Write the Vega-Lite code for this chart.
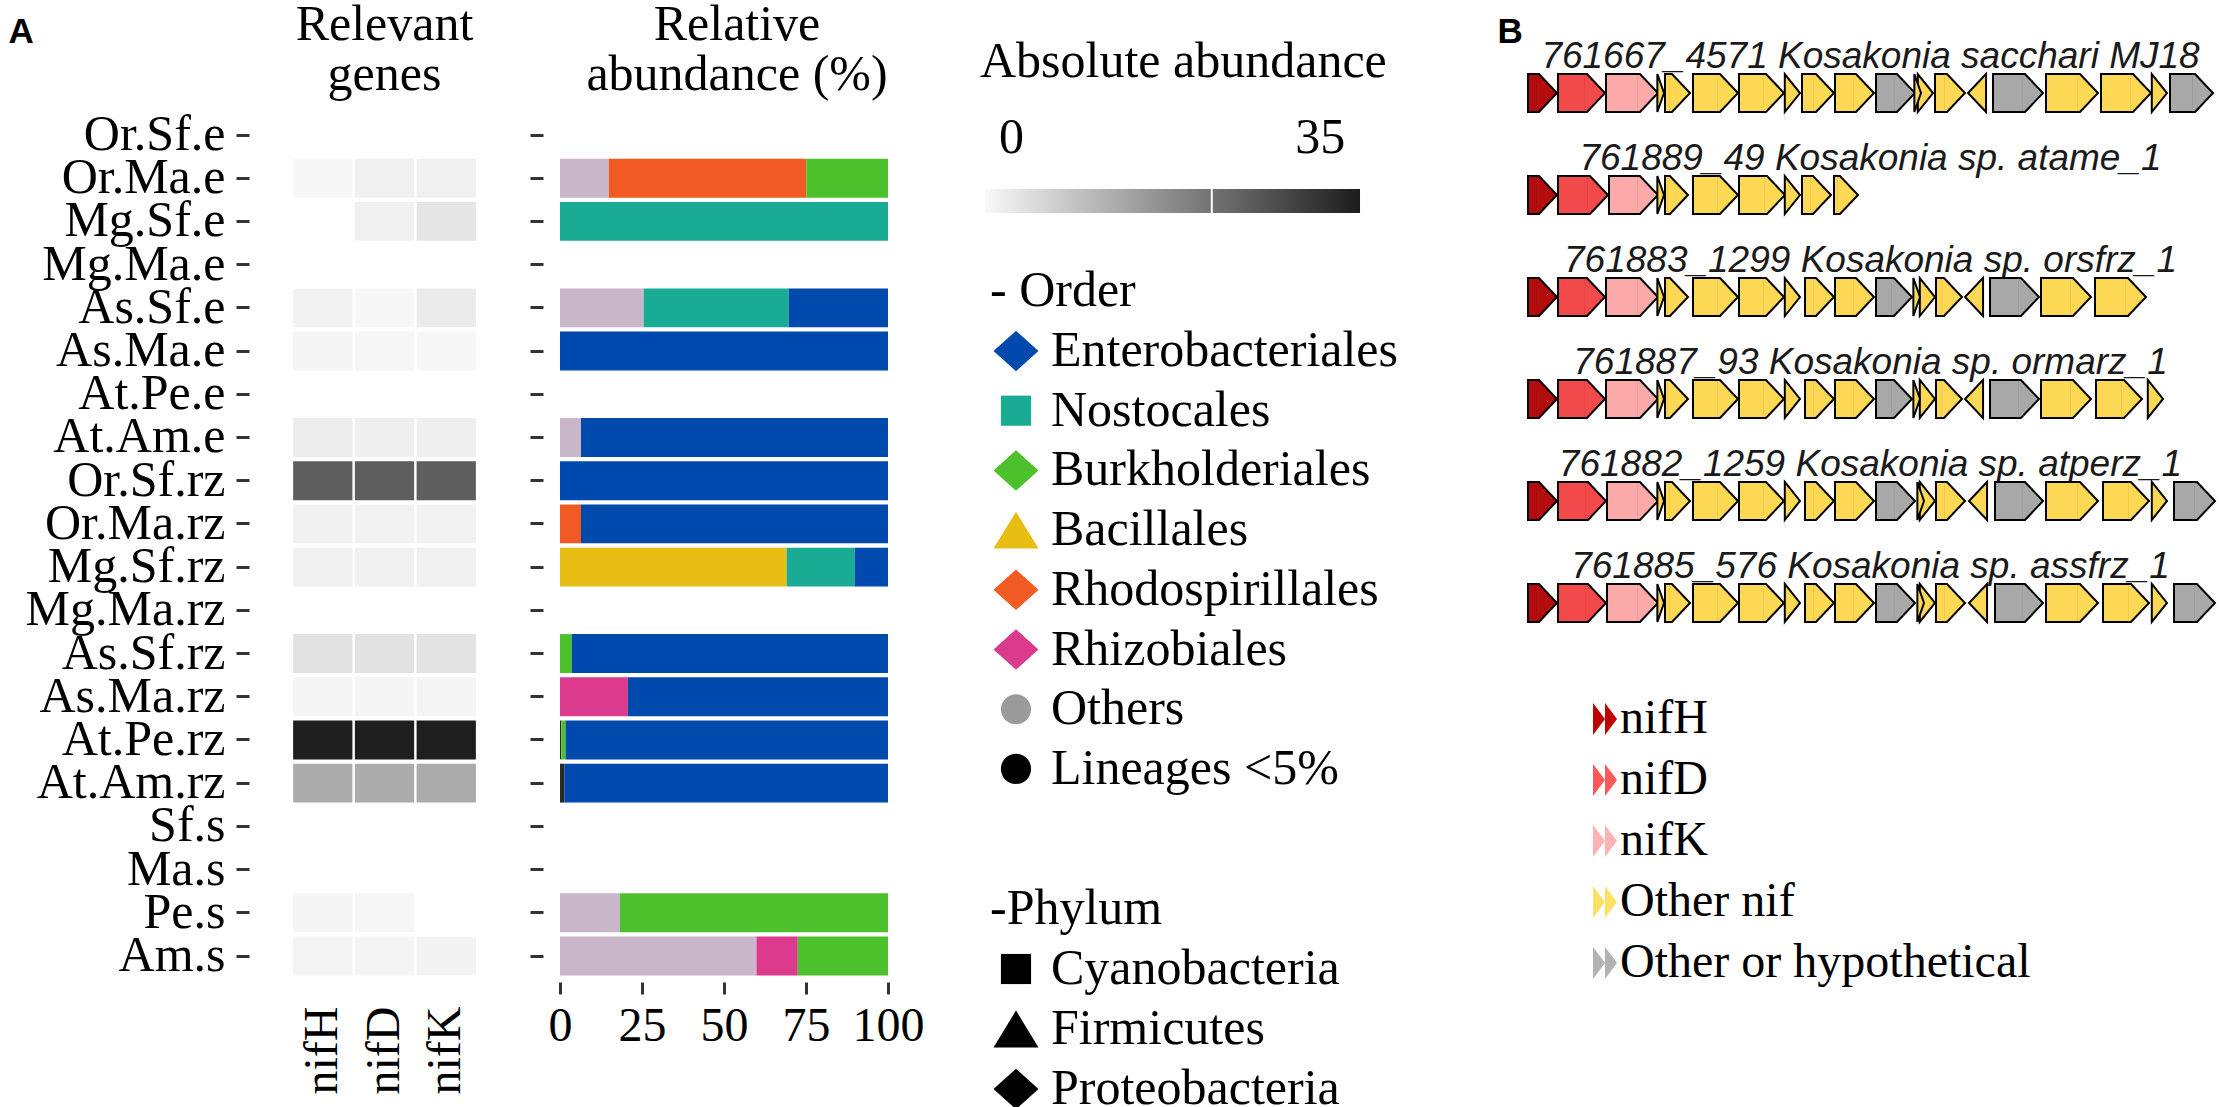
{
"$schema": "https://vega.github.io/schema/vega-lite/v6.json",
"background": "white",
"padding": {"left": 8, "top": 0, "right": 0, "bottom": 0},
"config": {
  "font": "Liberation Serif",
  "view": {"stroke": null},
  "axis": {"labelFont": "Liberation Serif", "titleFont": "Liberation Serif", "grid": false, "labelLimit": 0, "labelOverlap": false, "labelColor": "black", "titleColor": "black"},
  "title": {"font": "Liberation Serif", "fontWeight": "normal", "fontSize": 50, "color": "black", "frame": "group"},
  "text": {"font": "Liberation Serif", "color": "black"}
},
"datasets": {
  "heat": [
    {"sample":"Or.Ma.e","gene":"nifH","abundance":0.2},
    {"sample":"Or.Ma.e","gene":"nifD","abundance":1.4},
    {"sample":"Or.Ma.e","gene":"nifK","abundance":1.4},
    {"sample":"Mg.Sf.e","gene":"nifD","abundance":1.4},
    {"sample":"Mg.Sf.e","gene":"nifK","abundance":3.1},
    {"sample":"As.Sf.e","gene":"nifH","abundance":1.0},
    {"sample":"As.Sf.e","gene":"nifD","abundance":0.2},
    {"sample":"As.Sf.e","gene":"nifK","abundance":2.3},
    {"sample":"As.Ma.e","gene":"nifH","abundance":0.5},
    {"sample":"As.Ma.e","gene":"nifD","abundance":0.35},
    {"sample":"As.Ma.e","gene":"nifK","abundance":0.15},
    {"sample":"At.Am.e","gene":"nifH","abundance":2.1},
    {"sample":"At.Am.e","gene":"nifD","abundance":1.6},
    {"sample":"At.Am.e","gene":"nifK","abundance":1.5},
    {"sample":"Or.Sf.rz","gene":"nifH","abundance":26.8},
    {"sample":"Or.Sf.rz","gene":"nifD","abundance":26.8},
    {"sample":"Or.Sf.rz","gene":"nifK","abundance":26.8},
    {"sample":"Or.Ma.rz","gene":"nifH","abundance":1.4},
    {"sample":"Or.Ma.rz","gene":"nifD","abundance":1.1},
    {"sample":"Or.Ma.rz","gene":"nifK","abundance":1.0},
    {"sample":"Mg.Sf.rz","gene":"nifH","abundance":1.4},
    {"sample":"Mg.Sf.rz","gene":"nifD","abundance":1.4},
    {"sample":"Mg.Sf.rz","gene":"nifK","abundance":1.4},
    {"sample":"As.Sf.rz","gene":"nifH","abundance":3.8},
    {"sample":"As.Sf.rz","gene":"nifD","abundance":3.9},
    {"sample":"As.Sf.rz","gene":"nifK","abundance":3.7},
    {"sample":"As.Ma.rz","gene":"nifH","abundance":0.5},
    {"sample":"As.Ma.rz","gene":"nifD","abundance":0.5},
    {"sample":"As.Ma.rz","gene":"nifK","abundance":0.5},
    {"sample":"At.Pe.rz","gene":"nifH","abundance":38},
    {"sample":"At.Pe.rz","gene":"nifD","abundance":38},
    {"sample":"At.Pe.rz","gene":"nifK","abundance":38},
    {"sample":"At.Am.rz","gene":"nifH","abundance":13.4},
    {"sample":"At.Am.rz","gene":"nifD","abundance":13.4},
    {"sample":"At.Am.rz","gene":"nifK","abundance":13.4},
    {"sample":"Pe.s","gene":"nifH","abundance":0.6},
    {"sample":"Pe.s","gene":"nifD","abundance":0.3},
    {"sample":"Am.s","gene":"nifH","abundance":0.7},
    {"sample":"Am.s","gene":"nifD","abundance":0.7},
    {"sample":"Am.s","gene":"nifK","abundance":0.8}
  ],
  "bars": [
    {"sample":"Or.Ma.e","order":"Others","from":0,"to":14.9},
    {"sample":"Or.Ma.e","order":"Rhodospirillales","from":14.9,"to":75.1},
    {"sample":"Or.Ma.e","order":"Burkholderiales","from":75.1,"to":100},
    {"sample":"Mg.Sf.e","order":"Nostocales","from":0,"to":100},
    {"sample":"As.Sf.e","order":"Others","from":0,"to":25.5},
    {"sample":"As.Sf.e","order":"Nostocales","from":25.5,"to":69.7},
    {"sample":"As.Sf.e","order":"Enterobacteriales","from":69.7,"to":100},
    {"sample":"As.Ma.e","order":"Enterobacteriales","from":0,"to":100},
    {"sample":"At.Am.e","order":"Others","from":0,"to":6.4},
    {"sample":"At.Am.e","order":"Enterobacteriales","from":6.4,"to":100},
    {"sample":"Or.Sf.rz","order":"Enterobacteriales","from":0,"to":100},
    {"sample":"Or.Ma.rz","order":"Rhodospirillales","from":0,"to":6.4},
    {"sample":"Or.Ma.rz","order":"Enterobacteriales","from":6.4,"to":100},
    {"sample":"Mg.Sf.rz","order":"Bacillales","from":0,"to":69.1},
    {"sample":"Mg.Sf.rz","order":"Nostocales","from":69.1,"to":89.8},
    {"sample":"Mg.Sf.rz","order":"Enterobacteriales","from":89.8,"to":100},
    {"sample":"As.Sf.rz","order":"Burkholderiales","from":0,"to":3.6},
    {"sample":"As.Sf.rz","order":"Enterobacteriales","from":3.6,"to":100},
    {"sample":"As.Ma.rz","order":"Rhizobiales","from":0,"to":20.7},
    {"sample":"As.Ma.rz","order":"Enterobacteriales","from":20.7,"to":100},
    {"sample":"At.Pe.rz","order":"Lineages <5%","from":0,"to":0.4},
    {"sample":"At.Pe.rz","order":"Burkholderiales","from":0.4,"to":1.7},
    {"sample":"At.Pe.rz","order":"Enterobacteriales","from":1.7,"to":100},
    {"sample":"At.Am.rz","order":"Lineages <5%","from":0,"to":1.3},
    {"sample":"At.Am.rz","order":"Enterobacteriales","from":1.3,"to":100},
    {"sample":"Pe.s","order":"Others","from":0,"to":18.3},
    {"sample":"Pe.s","order":"Burkholderiales","from":18.3,"to":100},
    {"sample":"Am.s","order":"Others","from":0,"to":59.9},
    {"sample":"Am.s","order":"Rhizobiales","from":59.9,"to":72.5},
    {"sample":"Am.s","order":"Burkholderiales","from":72.5,"to":100}
  ],
  "gradbar": [{"part":"bar","lo":-3,"hi":39.5}],
  "gradtick": [{"part":"bar","value":22.7}],
  "gradlabels": [{"part":"labels","value":0,"label":"0"},{"part":"labels","value":35,"label":"35"}],
  "orderlegend": [
    {"key":"Enterobacteriales"},{"key":"Nostocales"},{"key":"Burkholderiales"},{"key":"Bacillales"},
    {"key":"Rhodospirillales"},{"key":"Rhizobiales"},{"key":"Others"},{"key":"Lineages <5%"}
  ],
  "ordertitle": [{"key":"- Order"}],
  "phylumlegend": [{"key":"Cyanobacteria"},{"key":"Firmicutes"},{"key":"Proteobacteria"}],
  "phylumtitle": [{"key":"-Phylum"}],
  "contigs": [
    {"contig":"c1","label":"761667_4571 Kosakonia sacchari MJ18"},
    {"contig":"c2","label":"761889_49 Kosakonia sp. atame_1"},
    {"contig":"c3","label":"761883_1299 Kosakonia sp. orsfrz_1"},
    {"contig":"c4","label":"761887_93 Kosakonia sp. ormarz_1"},
    {"contig":"c5","label":"761882_1259 Kosakonia sp. atperz_1"},
    {"contig":"c6","label":"761885_576 Kosakonia sp. assfrz_1"}
  ],
  "genelegend": [{"type":"nifH"},{"type":"nifD"},{"type":"nifK"},{"type":"Other nif"},{"type":"Other or hypothetical"}],
  "genes": [
    {"contig":"c1","start":3,"end":32,"type":"nifH","strand":"+"},
    {"contig":"c1","start":33,"end":80,"type":"nifD","strand":"+"},
    {"contig":"c1","start":81,"end":133,"type":"nifK","strand":"+"},
    {"contig":"c1","start":134,"end":139,"type":"Other nif","strand":"+"},
    {"contig":"c1","start":140,"end":165,"type":"Other nif","strand":"+"},
    {"contig":"c1","start":168,"end":213,"type":"Other nif","strand":"+"},
    {"contig":"c1","start":214,"end":259,"type":"Other nif","strand":"+"},
    {"contig":"c1","start":260,"end":275,"type":"Other nif","strand":"+"},
    {"contig":"c1","start":277,"end":309,"type":"Other nif","strand":"+"},
    {"contig":"c1","start":310,"end":349,"type":"Other nif","strand":"+"},
    {"contig":"c1","start":351,"end":390,"type":"Other or hypothetical","strand":"+"},
    {"contig":"c1","start":391,"end":396,"type":"Other nif","strand":"+"},
    {"contig":"c1","start":397,"end":408,"type":"Other nif","strand":"+"},
    {"contig":"c1","start":410,"end":440,"type":"Other nif","strand":"+"},
    {"contig":"c1","start":443,"end":461,"type":"Other nif","strand":"-"},
    {"contig":"c1","start":468,"end":518,"type":"Other or hypothetical","strand":"+"},
    {"contig":"c1","start":521,"end":573,"type":"Other nif","strand":"+"},
    {"contig":"c1","start":576,"end":626,"type":"Other nif","strand":"+"},
    {"contig":"c1","start":627,"end":642,"type":"Other nif","strand":"+"},
    {"contig":"c1","start":645,"end":688,"type":"Other or hypothetical","strand":"+"},
    {"contig":"c2","start":3,"end":32,"type":"nifH","strand":"+"},
    {"contig":"c2","start":33,"end":83,"type":"nifD","strand":"+"},
    {"contig":"c2","start":84,"end":133,"type":"nifK","strand":"+"},
    {"contig":"c2","start":134,"end":139,"type":"Other nif","strand":"+"},
    {"contig":"c2","start":140,"end":163,"type":"Other nif","strand":"+"},
    {"contig":"c2","start":168,"end":213,"type":"Other nif","strand":"+"},
    {"contig":"c2","start":214,"end":260,"type":"Other nif","strand":"+"},
    {"contig":"c2","start":261,"end":275,"type":"Other nif","strand":"+"},
    {"contig":"c2","start":277,"end":306,"type":"Other nif","strand":"+"},
    {"contig":"c2","start":309,"end":333,"type":"Other nif","strand":"+"},
    {"contig":"c3","start":3,"end":32,"type":"nifH","strand":"+"},
    {"contig":"c3","start":33,"end":80,"type":"nifD","strand":"+"},
    {"contig":"c3","start":81,"end":133,"type":"nifK","strand":"+"},
    {"contig":"c3","start":134,"end":139,"type":"Other nif","strand":"+"},
    {"contig":"c3","start":140,"end":163,"type":"Other nif","strand":"+"},
    {"contig":"c3","start":168,"end":213,"type":"Other nif","strand":"+"},
    {"contig":"c3","start":214,"end":259,"type":"Other nif","strand":"+"},
    {"contig":"c3","start":260,"end":275,"type":"Other nif","strand":"+"},
    {"contig":"c3","start":280,"end":309,"type":"Other nif","strand":"+"},
    {"contig":"c3","start":310,"end":349,"type":"Other nif","strand":"+"},
    {"contig":"c3","start":351,"end":387,"type":"Other or hypothetical","strand":"+"},
    {"contig":"c3","start":388,"end":395,"type":"Other nif","strand":"+"},
    {"contig":"c3","start":396,"end":410,"type":"Other nif","strand":"+"},
    {"contig":"c3","start":411,"end":437,"type":"Other nif","strand":"+"},
    {"contig":"c3","start":440,"end":461,"type":"Other nif","strand":"-"},
    {"contig":"c3","start":465,"end":514,"type":"Other or hypothetical","strand":"+"},
    {"contig":"c3","start":516,"end":566,"type":"Other nif","strand":"+"},
    {"contig":"c3","start":570,"end":621,"type":"Other nif","strand":"+"},
    {"contig":"c4","start":3,"end":32,"type":"nifH","strand":"+"},
    {"contig":"c4","start":33,"end":80,"type":"nifD","strand":"+"},
    {"contig":"c4","start":81,"end":133,"type":"nifK","strand":"+"},
    {"contig":"c4","start":134,"end":139,"type":"Other nif","strand":"+"},
    {"contig":"c4","start":140,"end":163,"type":"Other nif","strand":"+"},
    {"contig":"c4","start":168,"end":213,"type":"Other nif","strand":"+"},
    {"contig":"c4","start":214,"end":259,"type":"Other nif","strand":"+"},
    {"contig":"c4","start":260,"end":275,"type":"Other nif","strand":"+"},
    {"contig":"c4","start":280,"end":309,"type":"Other nif","strand":"+"},
    {"contig":"c4","start":310,"end":349,"type":"Other nif","strand":"+"},
    {"contig":"c4","start":351,"end":387,"type":"Other or hypothetical","strand":"+"},
    {"contig":"c4","start":388,"end":395,"type":"Other nif","strand":"+"},
    {"contig":"c4","start":396,"end":410,"type":"Other nif","strand":"+"},
    {"contig":"c4","start":411,"end":437,"type":"Other nif","strand":"+"},
    {"contig":"c4","start":440,"end":461,"type":"Other nif","strand":"-"},
    {"contig":"c4","start":465,"end":514,"type":"Other or hypothetical","strand":"+"},
    {"contig":"c4","start":516,"end":566,"type":"Other nif","strand":"+"},
    {"contig":"c4","start":571,"end":617,"type":"Other nif","strand":"+"},
    {"contig":"c4","start":618,"end":638,"type":"Other nif","strand":"+"},
    {"contig":"c5","start":3,"end":32,"type":"nifH","strand":"+"},
    {"contig":"c5","start":33,"end":81,"type":"nifD","strand":"+"},
    {"contig":"c5","start":82,"end":133,"type":"nifK","strand":"+"},
    {"contig":"c5","start":134,"end":139,"type":"Other nif","strand":"+"},
    {"contig":"c5","start":140,"end":165,"type":"Other nif","strand":"+"},
    {"contig":"c5","start":168,"end":213,"type":"Other nif","strand":"+"},
    {"contig":"c5","start":214,"end":259,"type":"Other nif","strand":"+"},
    {"contig":"c5","start":261,"end":275,"type":"Other nif","strand":"+"},
    {"contig":"c5","start":280,"end":309,"type":"Other nif","strand":"+"},
    {"contig":"c5","start":310,"end":349,"type":"Other nif","strand":"+"},
    {"contig":"c5","start":351,"end":390,"type":"Other or hypothetical","strand":"+"},
    {"contig":"c5","start":393,"end":399,"type":"Other nif","strand":"+"},
    {"contig":"c5","start":400,"end":410,"type":"Other nif","strand":"+"},
    {"contig":"c5","start":411,"end":440,"type":"Other nif","strand":"+"},
    {"contig":"c5","start":444,"end":463,"type":"Other nif","strand":"-"},
    {"contig":"c5","start":470,"end":518,"type":"Other or hypothetical","strand":"+"},
    {"contig":"c5","start":521,"end":573,"type":"Other nif","strand":"+"},
    {"contig":"c5","start":578,"end":624,"type":"Other nif","strand":"+"},
    {"contig":"c5","start":625,"end":642,"type":"Other nif","strand":"+"},
    {"contig":"c5","start":649,"end":690,"type":"Other or hypothetical","strand":"+"},
    {"contig":"c6","start":3,"end":32,"type":"nifH","strand":"+"},
    {"contig":"c6","start":33,"end":81,"type":"nifD","strand":"+"},
    {"contig":"c6","start":82,"end":133,"type":"nifK","strand":"+"},
    {"contig":"c6","start":134,"end":139,"type":"Other nif","strand":"+"},
    {"contig":"c6","start":140,"end":165,"type":"Other nif","strand":"+"},
    {"contig":"c6","start":168,"end":213,"type":"Other nif","strand":"+"},
    {"contig":"c6","start":214,"end":259,"type":"Other nif","strand":"+"},
    {"contig":"c6","start":261,"end":275,"type":"Other nif","strand":"+"},
    {"contig":"c6","start":280,"end":309,"type":"Other nif","strand":"+"},
    {"contig":"c6","start":310,"end":349,"type":"Other nif","strand":"+"},
    {"contig":"c6","start":351,"end":390,"type":"Other or hypothetical","strand":"+"},
    {"contig":"c6","start":393,"end":399,"type":"Other nif","strand":"+"},
    {"contig":"c6","start":400,"end":410,"type":"Other nif","strand":"+"},
    {"contig":"c6","start":411,"end":440,"type":"Other nif","strand":"+"},
    {"contig":"c6","start":444,"end":463,"type":"Other nif","strand":"-"},
    {"contig":"c6","start":470,"end":518,"type":"Other or hypothetical","strand":"+"},
    {"contig":"c6","start":521,"end":573,"type":"Other nif","strand":"+"},
    {"contig":"c6","start":578,"end":624,"type":"Other nif","strand":"+"},
    {"contig":"c6","start":625,"end":642,"type":"Other nif","strand":"+"},
    {"contig":"c6","start":649,"end":690,"type":"Other or hypothetical","strand":"+"}
  ]
},
"bounds": "flush",
"spacing": 23,
"resolve": {"scale": {"color": "independent", "shape": "independent", "x": "independent", "y": "independent"}},
"hconcat": [
  {
    "width": 271, "height": 946,
    "title": {"text": ["Relevant", "genes"], "anchor": "middle", "frame": "group", "baseline": "top", "offset": -86, "fontSize": 50, "lineHeight": 50},
    "data": {"name": "heat"},
    "mark": {"type": "rect"},
    "encoding": {
      "x": {"field": "gene", "type": "nominal",
            "scale": {"domain": ["nifH","nifD","nifK"], "paddingInner": 0.04, "paddingOuter": 0.715},
            "axis": {"title": null, "labelAngle": -90, "labelFontSize": 48, "ticks": false, "tickSize": 0, "domain": false, "labelPadding": 24}},
      "y": {"field": "sample", "type": "nominal",
            "scale": {"domain": ["Or.Sf.e","Or.Ma.e","Mg.Sf.e","Mg.Ma.e","As.Sf.e","As.Ma.e","At.Pe.e","At.Am.e","Or.Sf.rz","Or.Ma.rz","Mg.Sf.rz","Mg.Ma.rz","As.Sf.rz","As.Ma.rz","At.Pe.rz","At.Am.rz","Sf.s","Ma.s","Pe.s","Am.s"], "paddingInner": 0.1, "paddingOuter": 0.9963, "align": 0.924},
            "axis": {"title": "A", "titleAngle": 0, "titleX": -241, "titleY": 6, "titleAlign": "left", "titleBaseline": "alphabetic", "titleFont": "Liberation Sans", "titleFontSize": 35, "titleFontWeight": "bold",
                     "labelFontSize": 50, "labelPadding": 11, "tickSize": 13, "tickWidth": 3, "tickColor": "#333333", "domain": false}},
      "color": {"field": "abundance", "type": "quantitative",
                "scale": {"domain": [0, 38], "range": ["#f8f8f8", "#1e1e1e"], "interpolate": "rgb"}, "legend": null}
    }
  },
  {
    "width": 362, "height": 946,
    "title": {"text": ["Relative", "abundance (%)"], "anchor": "middle", "frame": "group", "baseline": "top", "offset": -64, "fontSize": 50, "lineHeight": 50, "dx": 13},
    "data": {"name": "bars"},
    "mark": {"type": "bar"},
    "encoding": {
      "x": {"field": "from", "type": "quantitative",
            "scale": {"domain": [-5.18, 105.18], "nice": false, "zero": false},
            "axis": {"title": null, "values": [0,25,50,75,100], "labelFontSize": 48, "labelPadding": 8, "tickSize": 12, "tickWidth": 3, "tickColor": "#333333", "domain": false, "labelFlush": false}},
      "x2": {"field": "to"},
      "y": {"field": "sample", "type": "nominal",
            "scale": {"domain": ["Or.Sf.e","Or.Ma.e","Mg.Sf.e","Mg.Ma.e","As.Sf.e","As.Ma.e","At.Pe.e","At.Am.e","Or.Sf.rz","Or.Ma.rz","Mg.Sf.rz","Mg.Ma.rz","As.Sf.rz","As.Ma.rz","At.Pe.rz","At.Am.rz","Sf.s","Ma.s","Pe.s","Am.s"], "paddingInner": 0.1, "paddingOuter": 0.9963, "align": 0.924},
            "axis": {"title": null, "labels": false, "tickSize": 13, "tickWidth": 3, "tickColor": "#333333", "domain": false}},
      "color": {"field": "order", "type": "nominal",
                "scale": {"domain": ["Enterobacteriales","Nostocales","Burkholderiales","Bacillales","Rhodospirillales","Rhizobiales","Others","Lineages <5%"],
                          "range": ["#004aad","#1aab95","#4dc12b","#e8bd14","#f15a22","#db3a8d","#c9b6c9","#2a2a2a"]},
                "legend": null}
    }
  },
  {
    "width": 574, "height": 1077,
    "title": {"text": "Absolute abundance", "anchor": "start", "frame": "group", "baseline": "top", "offset": -50.5, "dx": 52, "fontSize": 50},
    "resolve": {"scale": {"x": "independent", "y": "independent", "color": "independent", "shape": "independent"}},
    "layer": [
      {
        "layer": [
          {
            "data": {"name": "gradbar"},
            "mark": {"type": "rect", "fill": {"gradient": "linear", "stops": [{"offset": 0, "color": "#f8f8f8"}, {"offset": 1, "color": "#1c1c1c"}]}},
            "encoding": {
              "x": {"field": "lo", "type": "quantitative", "scale": {"domain": [-9.46, 55.59], "nice": false, "zero": false}, "axis": null},
              "x2": {"field": "hi"},
              "y": {"field": "part", "type": "nominal", "scale": {"domain": ["labels", "bar"], "range": [90, 177], "paddingInner": 0.619, "paddingOuter": 0}, "axis": null}
            }
          },
          {
            "data": {"name": "gradtick"},
            "mark": {"type": "tick", "color": "white", "thickness": 2, "size": 24, "opacity": 1},
            "encoding": {
              "x": {"field": "value", "type": "quantitative"},
              "y": {"field": "part", "type": "nominal"}
            }
          },
          {
            "data": {"name": "gradlabels"},
            "mark": {"type": "text", "fontSize": 50, "baseline": "middle", "align": "center"},
            "encoding": {
              "x": {"field": "value", "type": "quantitative"},
              "y": {"field": "part", "type": "nominal"},
              "text": {"field": "label"}
            }
          }
        ]
      },
      {
        "encoding": {
          "y": {"field": "key", "type": "nominal", "scale": {"type": "point", "domain": ["- Order","Enterobacteriales","Nostocales","Burkholderiales","Bacillales","Rhodospirillales","Rhizobiales","Others","Lineages <5%"], "range": [255.3, 732.9], "padding": 0}, "axis": null},
          "x": {"datum": "legend", "type": "nominal", "scale": {"type": "point", "domain": ["legend"], "padding": 1, "align": 0.1533}, "axis": null}
        },
        "layer": [
          {
            "data": {"name": "orderlegend"},
            "mark": {"type": "point", "filled": true, "opacity": 1, "size": 2025, "strokeWidth": 0},
            "encoding": {
              "shape": {"field": "key", "type": "nominal",
                        "scale": {"domain": ["Enterobacteriales","Nostocales","Burkholderiales","Bacillales","Rhodospirillales","Rhizobiales","Others","Lineages <5%"],
                                  "range": ["M-1,0L0,-0.9L1,0L0,0.9Z","M-0.67,-0.67L0.67,-0.67L0.67,0.67L-0.67,0.67Z","M-1,0L0,-0.9L1,0L0,0.9Z","M0,-0.82L1,0.82L-1,0.82Z","M-1,0L0,-0.9L1,0L0,0.9Z","M-1,0L0,-0.9L1,0L0,0.9Z","M-0.67,0A0.67,0.67,0,1,1,0.67,0A0.67,0.67,0,1,1,-0.67,0Z","M-0.67,0A0.67,0.67,0,1,1,0.67,0A0.67,0.67,0,1,1,-0.67,0Z"]},
                        "legend": null},
              "color": {"field": "key", "type": "nominal",
                        "scale": {"domain": ["Enterobacteriales","Nostocales","Burkholderiales","Bacillales","Rhodospirillales","Rhizobiales","Others","Lineages <5%"],
                                  "range": ["#004aad","#1aab95","#4dc12b","#e8bd14","#f15a22","#db3a8d","#9b9b9b","#000000"]},
                        "legend": null}
            }
          },
          {
            "data": {"name": "orderlegend"},
            "mark": {"type": "text", "align": "left", "baseline": "middle", "dx": 35, "fontSize": 50},
            "encoding": {"text": {"field": "key"}}
          },
          {
            "data": {"name": "ordertitle"},
            "mark": {"type": "text", "align": "left", "baseline": "middle", "dx": -26, "fontSize": 50},
            "encoding": {"text": {"field": "key"}}
          }
        ]
      },
      {
        "encoding": {
          "y": {"field": "key", "type": "nominal", "scale": {"type": "point", "domain": ["-Phylum","Cyanobacteria","Firmicutes","Proteobacteria"], "range": [873, 1053], "padding": 0}, "axis": null},
          "x": {"datum": "legend", "type": "nominal", "scale": {"type": "point", "domain": ["legend"], "padding": 1, "align": 0.1533}, "axis": null}
        },
        "layer": [
          {
            "data": {"name": "phylumlegend"},
            "mark": {"type": "point", "filled": true, "opacity": 1, "size": 2025, "strokeWidth": 0, "color": "black"},
            "encoding": {
              "shape": {"field": "key", "type": "nominal",
                        "scale": {"domain": ["Cyanobacteria","Firmicutes","Proteobacteria"],
                                  "range": ["M-0.67,-0.67L0.67,-0.67L0.67,0.67L-0.67,0.67Z","M0,-0.82L1,0.82L-1,0.82Z","M-1,0L0,-0.9L1,0L0,0.9Z"]},
                        "legend": null}
            }
          },
          {
            "data": {"name": "phylumlegend"},
            "mark": {"type": "text", "align": "left", "baseline": "middle", "dx": 35, "fontSize": 50},
            "encoding": {"text": {"field": "key"}}
          },
          {
            "data": {"name": "phylumtitle"},
            "mark": {"type": "text", "align": "left", "baseline": "middle", "dx": -26, "fontSize": 50},
            "encoding": {"text": {"field": "key"}}
          }
        ]
      }
    ]
  },
  {
    "width": 691, "height": 1077,
    "resolve": {"scale": {"x": "independent", "y": "independent", "color": "independent"}},
    "layer": [
      {
        "encoding": {
          "y": {"field": "contig", "type": "nominal",
                "scale": {"domain": ["c1","c2","c3","c4","c5","c6"], "range": [38, 586], "paddingInner": 0.627, "paddingOuter": 0},
                "axis": {"title": "B", "titleAngle": 0, "titleX": -28, "titleY": 6, "titleAlign": "left", "titleBaseline": "alphabetic", "titleFont": "Liberation Sans", "titleFontSize": 35, "titleFontWeight": "bold", "labels": false, "ticks": false, "domain": false}}
        },
        "layer": [
          {
            "data": {"name": "contigs"},
            "mark": {"type": "text", "font": "Liberation Sans", "fontStyle": "italic", "fontSize": 37, "align": "center", "baseline": "middle", "dy": -36, "color": "#1a1a1a"},
            "encoding": {"text": {"field": "label"}}
          },
          {
            "data": {"name": "genes"},
            "transform": [{"filter": "datum.strand == '+' && datum.end - datum.start >= 22"}],
            "mark": {"type": "rect", "stroke": "black", "strokeWidth": 2, "x2Offset": -19.5},
            "encoding": {
              "x": {"field": "start", "type": "quantitative", "scale": {"domain": [0, 691], "nice": false, "zero": false}, "axis": null},
              "x2": {"field": "end"},
              "color": {"field": "type", "type": "nominal",
                        "scale": {"domain": ["nifH","nifD","nifK","Other nif","Other or hypothetical"], "range": ["#b30c0c","#f24a4a","#fba9a9","#fdd854","#a8a8a8"]},
                        "legend": null}
            }
          },
          {
            "data": {"name": "genes"},
            "transform": [{"filter": "datum.strand == '+' && datum.end - datum.start >= 22"}],
            "mark": {"type": "point", "shape": "M-1.1,-1L-0.95,-1L0,0L-0.95,1L-1.1,1", "size": 1444, "filled": true, "opacity": 1, "stroke": "black", "strokeWidth": 2},
            "encoding": {
              "x": {"field": "end", "type": "quantitative", "axis": null},
              "color": {"field": "type", "type": "nominal", "legend": null}
            }
          },
          {
            "data": {"name": "genes"},
            "transform": [{"filter": "datum.strand == '+' && datum.end - datum.start >= 9 && datum.end - datum.start < 22"}],
            "mark": {"type": "point", "shape": "M-0.8,-1L0,0L-0.8,1Z", "size": 1444, "filled": true, "opacity": 1, "stroke": "black", "strokeWidth": 2},
            "encoding": {
              "x": {"field": "end", "type": "quantitative", "axis": null},
              "color": {"field": "type", "type": "nominal", "legend": null}
            }
          },
          {
            "data": {"name": "genes"},
            "transform": [{"filter": "datum.strand == '+' && datum.end - datum.start < 9"}],
            "mark": {"type": "point", "shape": "M-0.35,-1L0,0L-0.35,1Z", "size": 1444, "filled": true, "opacity": 1, "stroke": "black", "strokeWidth": 2},
            "encoding": {
              "x": {"field": "end", "type": "quantitative", "axis": null},
              "color": {"field": "type", "type": "nominal", "legend": null}
            }
          },
          {
            "data": {"name": "genes"},
            "transform": [{"filter": "datum.strand == '-'"}],
            "mark": {"type": "point", "shape": "M0.95,-1L0,0L0.95,1Z", "size": 1444, "filled": true, "opacity": 1, "stroke": "black", "strokeWidth": 2},
            "encoding": {
              "x": {"field": "start", "type": "quantitative", "axis": null},
              "color": {"field": "type", "type": "nominal", "legend": null}
            }
          }
        ]
      },
      {
        "data": {"name": "genelegend"},
        "encoding": {
          "y": {"field": "type", "type": "nominal", "scale": {"type": "point", "domain": ["nifH","nifD","nifK","Other nif","Other or hypothetical"], "range": [683, 927], "padding": 0}, "axis": null},
          "x": {"datum": "legend", "type": "nominal", "scale": {"type": "point", "domain": ["legend"], "padding": 1, "align": 0.1158}, "axis": null}
        },
        "layer": [
          {
            "mark": {"type": "point", "shape": "M-0.75,-1L0,0L-0.75,1Z M0,-1L0.75,0L0,1Z", "size": 1024, "filled": true, "opacity": 1, "strokeWidth": 0},
            "encoding": {
              "color": {"field": "type", "type": "nominal",
                        "scale": {"domain": ["nifH","nifD","nifK","Other nif","Other or hypothetical"], "range": ["#c00000","#ff5a5a","#ffb3b3","#ffe066","#b3b3b3"]},
                        "legend": null}
            }
          },
          {
            "mark": {"type": "text", "align": "left", "baseline": "middle", "dx": 15, "fontSize": 48},
            "encoding": {"text": {"field": "type"}}
          }
        ]
      }
    ]
  }
]
}
